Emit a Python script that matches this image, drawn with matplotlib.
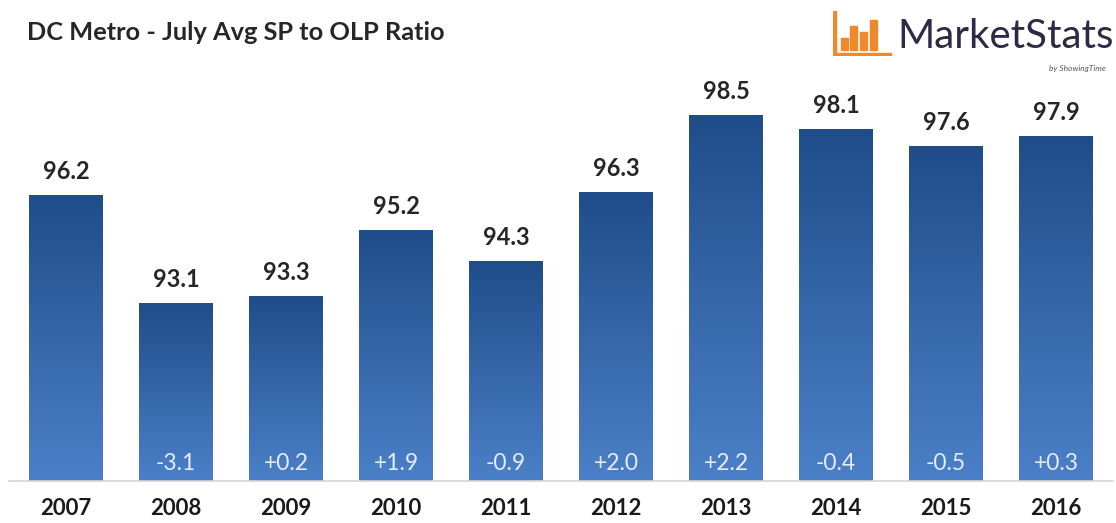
import numpy as np
import matplotlib.pyplot as plt
from matplotlib.patches import Rectangle
from matplotlib.colors import LinearSegmentedColormap

years = ['2007', '2008', '2009', '2010', '2011', '2012', '2013', '2014', '2015', '2016']
ratio = [96.2, 93.1, 93.3, 95.2, 94.3, 96.3, 98.5, 98.1, 97.6, 97.9]
change = ['', '-3.1', '+0.2', '+1.9', '-0.9', '+2.0', '+2.2', '-0.4', '-0.5', '+0.3']

plt.rcParams['font.family'] = ['Lato', 'DejaVu Sans']

W, H = 1116, 523
fig = plt.figure(figsize=(W / 100, H / 100), dpi=100)

# axes placed in pixels: baseline at y=481, plot top at y=60
base_px, top_px = 481, 60
ax = fig.add_axes([11 / W, (H - base_px) / H, 1100 / W, (base_px - top_px) / H])
ymin = 88.0
px_per_unit = 34.8
ylim = (ymin, ymin + (base_px - top_px) / px_per_unit)
ax.axis('off')

# vertical gradient, dark at the top of each bar
grad = np.linspace(0, 1, 256).reshape(-1, 1)
cmap = LinearSegmentedColormap.from_list('barblue', ['#4b80c8', '#1f4d8a'])

bw = 0.67
x = np.arange(len(years))
bars = ax.bar(x, [v - ymin for v in ratio], bottom=ymin, width=bw, color='none')
for b, v in zip(bars, ratio):
    x0 = b.get_x()
    ax.imshow(grad, cmap=cmap, aspect='auto', origin='lower',
              extent=[x0, x0 + bw, ymin, v], zorder=2)

ax.set_xlim(-0.5, len(years) - 0.5)
ax.set_ylim(*ylim)

# baseline
ax.plot([-0.52, len(years) - 0.48], [ymin, ymin], color='#d4d4d4', lw=1.2,
        clip_on=False, zorder=3)

for i, v in enumerate(ratio):
    ax.text(i, v + 0.36, f'{v:.1f}', ha='center', va='bottom', fontsize=17,
            fontweight='bold', color='#262626', zorder=4)
    if change[i]:
        ax.text(i, ymin + 0.5, change[i], ha='center', va='center', fontsize=16.5,
                color='#e4ecf7', zorder=4)
    ax.text(i, ymin - 0.8, years[i], ha='center', va='center', fontsize=16,
            fontweight='bold', color='#1a1a1a', clip_on=False)

fig.text(27 / W, 1 - 33 / H, 'DC Metro - July Avg SP to OLP Ratio', ha='left',
         va='center', fontsize=18.3, fontweight='bold', color='#262626')

# logo: orange bar icon
orange = '#f0892a'
logo = fig.add_axes([833 / W, 1 - 56 / H, 60 / W, 45 / H])
logo.set_xlim(0, 60)
logo.set_ylim(0, 45)
logo.axis('off')
logo.add_patch(Rectangle((0, 0), 3, 45, color=orange))
logo.add_patch(Rectangle((0, 0), 58, 3, color=orange))
for bx, bh in [(8, 12), (17, 24), (27, 18), (37, 30)]:
    logo.add_patch(Rectangle((bx, 6), 7, bh, color=orange))

fig.text(897 / W, 1 - 36 / H, 'MarketStats', ha='left', va='center',
         fontsize=29, color='#2b2b45')
fig.text(1106 / W, 1 - 68 / H, 'by ShowingTime', ha='right', va='center',
         fontsize=6, style='italic', color='#555555')

fig.savefig('out.png', dpi=100, facecolor='white')
